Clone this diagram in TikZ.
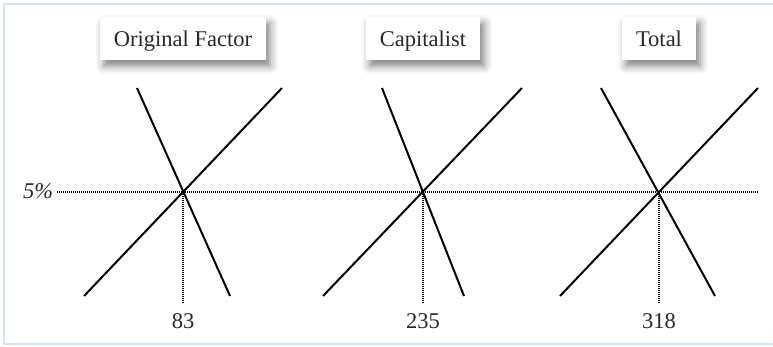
\documentclass[tikz,border=0pt]{standalone}
\usepackage{fontspec}
\setmainfont{Liberation Serif}
\usetikzlibrary{shadows.blur}
\definecolor{frameblue}{RGB}{214,228,242}
\definecolor{inkgray}{RGB}{40,40,40}

\begin{document}
\begin{tikzpicture}[x=1pt, y=-1pt,
  title/.style={fill=white, inner xsep=14pt, inner ysep=11pt,
    text height=18pt, text depth=3pt, text=inkgray,
    font=\fontsize{22.5}{26}\selectfont,
    blur shadow={shadow xshift=4pt, shadow yshift=-6pt,
      shadow blur radius=8pt, shadow opacity=50}},
  curve/.style={line width=2pt},
  guide/.style={line width=1.6pt, dash pattern=on 1pt off 1pt},
  value/.style={text=inkgray, font=\fontsize{22.5}{26}\selectfont}
]
\useasboundingbox (0,0) rectangle (773,346);
\draw[frameblue, line width=2pt] (790,4) -- (4,4) -- (4,344) -- (790,344);

% rate of return
\node[value] (pct) at (38,191) {\itshape 5\%};
\coordinate (hstart) at (57,192);
\coordinate (hend) at (758,192);
\draw[guide] (hstart) -- (hend);

% one panel per market
\foreach \cx/\dl/\dr/\sl/\sr/\name/\txt/\num in {
    183/46/47/99/99/orig/Original Factor/83,
    423/41/41/100/99/cap/Capitalist/235,
    659/58/56/99/99/tot/Total/318}{
  \node[title] (title-\name) at (\cx,38.5) {\txt};
  \coordinate (eq-\name) at (\cx,192);
  \coordinate (drop-\name) at (\cx,303);
  \node[value] (val-\name) at (\cx,321) {\num};
  \coordinate (dtop-\name) at (\cx-\dl,88);
  \coordinate (dbot-\name) at (\cx+\dr,296);
  \coordinate (sbot-\name) at (\cx-\sl,296);
  \coordinate (stop-\name) at (\cx+\sr,88);
  \draw[guide] (eq-\name) -- (drop-\name);
  \draw[curve] (dtop-\name) -- (dbot-\name);
  \draw[curve] (sbot-\name) -- (stop-\name);
}
\end{tikzpicture}
\end{document}
